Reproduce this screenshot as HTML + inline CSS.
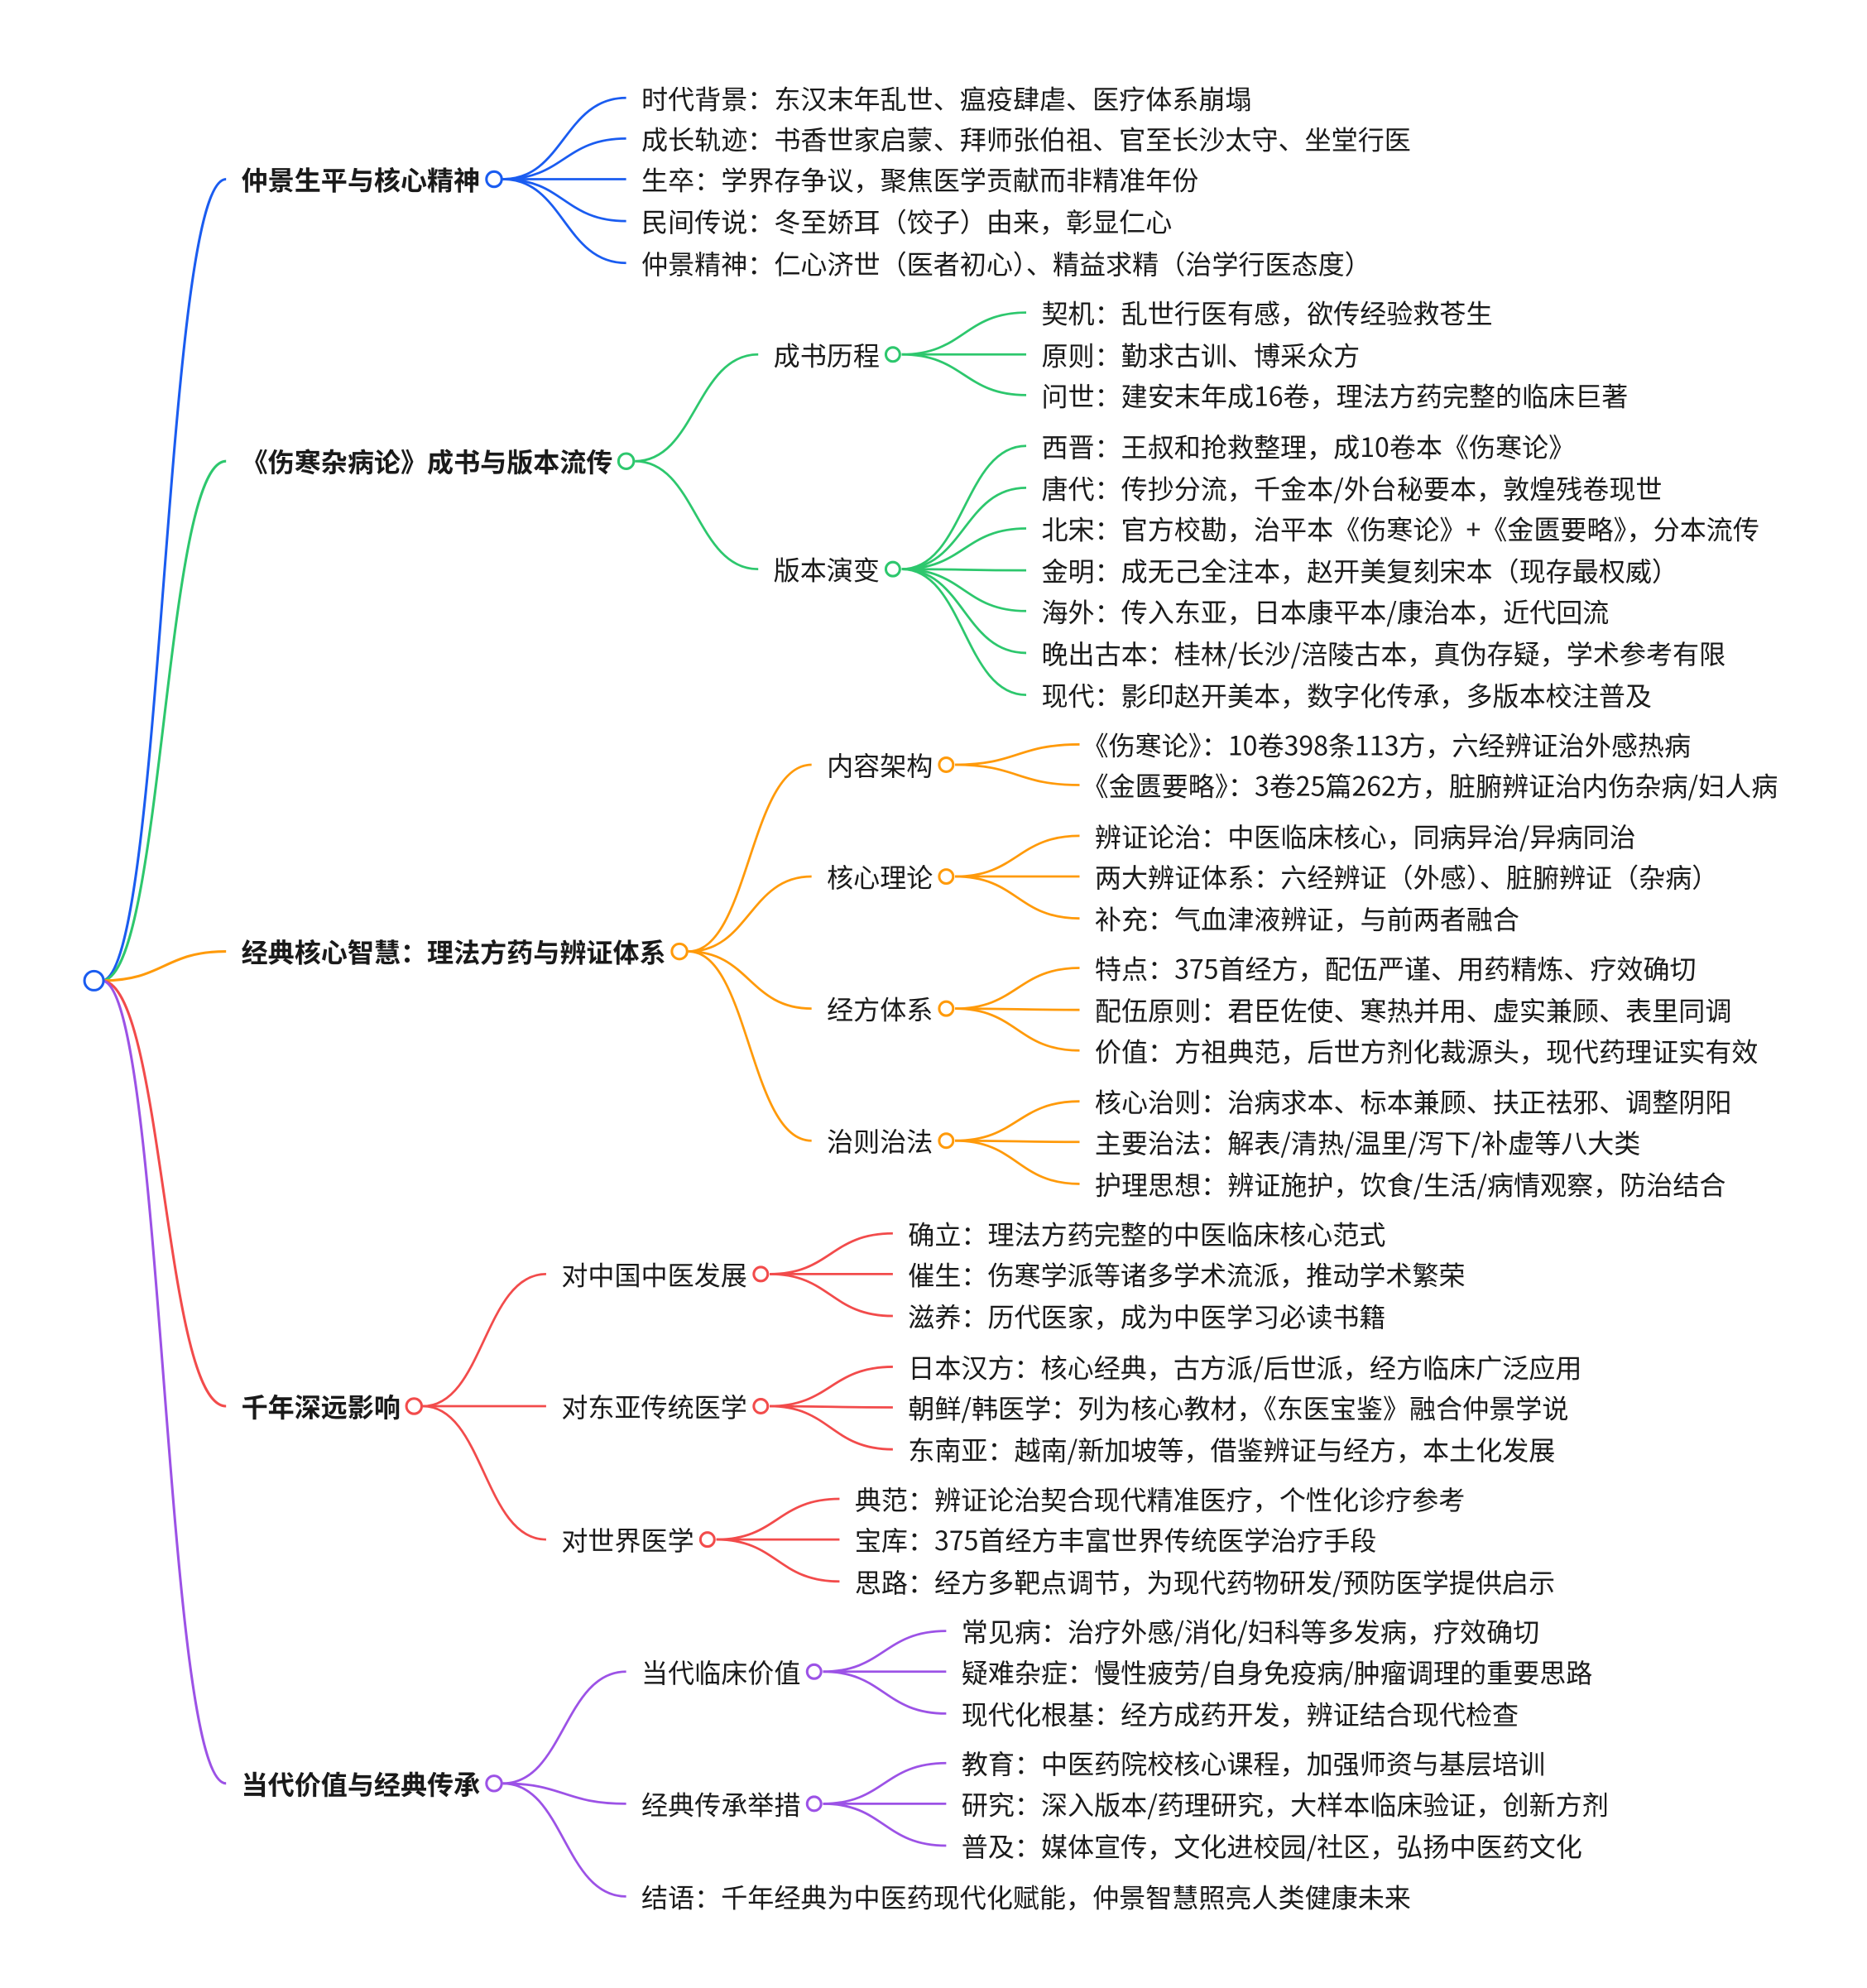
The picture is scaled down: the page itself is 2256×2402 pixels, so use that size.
<!DOCTYPE html>
<html><head><meta charset="utf-8"><style>
html,body{margin:0;padding:0;background:#fff;}
svg{display:block}
text{font-family:"Noto Sans CJK SC","Liberation Sans",sans-serif;font-size:20.9px;fill:#1a1a1a;dominant-baseline:central}
text.b{font-weight:bold}
path{fill:none}
circle{fill:#fff;stroke-width:2}
</style></head><body>
<svg width="2256" height="2402" viewBox="0 0 1470 1565" xmlns="http://www.w3.org/2000/svg">
<g stroke-width="2">
<path stroke="#1a5cf0" d="M80 772 C129 772,129 141,178 141"/>
<path stroke="#2dc76d" d="M80 772 C129 772,129 363,178 363"/>
<path stroke="#ff9a0a" d="M80 772 C129 772,129 749,178 749"/>
<path stroke="#f24b4b" d="M80 772 C129 772,129 1107,178 1107"/>
<path stroke="#9c52e6" d="M80 772 C129 772,129 1404,178 1404"/>
</g>
<g stroke="#1a5cf0" stroke-width="1.8">
<path d="M396 141 C444 141,444 77,493 77"/>
<path d="M396 141 C444 141,444 109,493 109"/>
<path d="M396 141 C444 141,444 141,493 141"/>
<path d="M396 141 C444 141,444 174,493 174"/>
<path d="M396 141 C444 141,444 207,493 207"/>
</g>
<g stroke="#2dc76d" stroke-width="1.8">
<path d="M500 363 C548 363,548 279,597 279"/>
<path d="M500 363 C548 363,548 448,597 448"/>
<path d="M710 279 C759 279,759 246,808 246"/>
<path d="M710 279 C759 279,759 279,808 279"/>
<path d="M710 279 C759 279,759 311,808 311"/>
<path d="M710 448 C759 448,759 351,808 351"/>
<path d="M710 448 C759 448,759 384,808 384"/>
<path d="M710 448 C759 448,759 416,808 416"/>
<path d="M710 448 C759 448,759 449,808 449"/>
<path d="M710 448 C759 448,759 481,808 481"/>
<path d="M710 448 C759 448,759 514,808 514"/>
<path d="M710 448 C759 448,759 547,808 547"/>
</g>
<g stroke="#ff9a0a" stroke-width="1.8">
<path d="M542 749 C590 749,590 602,639 602"/>
<path d="M542 749 C590 749,590 690,639 690"/>
<path d="M542 749 C590 749,590 794,639 794"/>
<path d="M542 749 C590 749,590 898,639 898"/>
<path d="M752 602 C801 602,801 586,850 586"/>
<path d="M752 602 C801 602,801 618,850 618"/>
<path d="M752 690 C801 690,801 658,850 658"/>
<path d="M752 690 C801 690,801 690,850 690"/>
<path d="M752 690 C801 690,801 723,850 723"/>
<path d="M752 794 C801 794,801 762,850 762"/>
<path d="M752 794 C801 794,801 795,850 795"/>
<path d="M752 794 C801 794,801 827,850 827"/>
<path d="M752 898 C801 898,801 867,850 867"/>
<path d="M752 898 C801 898,801 899,850 899"/>
<path d="M752 898 C801 898,801 932,850 932"/>
</g>
<g stroke="#f24b4b" stroke-width="1.8">
<path d="M333 1107 C381 1107,381 1003,430 1003"/>
<path d="M333 1107 C381 1107,381 1107,430 1107"/>
<path d="M333 1107 C381 1107,381 1212,430 1212"/>
<path d="M606 1003 C654 1003,654 971,703 971"/>
<path d="M606 1003 C654 1003,654 1003,703 1003"/>
<path d="M606 1003 C654 1003,654 1036,703 1036"/>
<path d="M606 1107 C654 1107,654 1076,703 1076"/>
<path d="M606 1107 C654 1107,654 1108,703 1108"/>
<path d="M606 1107 C654 1107,654 1141,703 1141"/>
<path d="M564 1212 C612 1212,612 1180,661 1180"/>
<path d="M564 1212 C612 1212,612 1212,661 1212"/>
<path d="M564 1212 C612 1212,612 1245,661 1245"/>
</g>
<g stroke="#9c52e6" stroke-width="1.8">
<path d="M396 1404 C444 1404,444 1316,493 1316"/>
<path d="M396 1404 C444 1404,444 1420,493 1420"/>
<path d="M396 1404 C444 1404,444 1493,493 1493"/>
<path d="M648 1316 C696 1316,696 1284,745 1284"/>
<path d="M648 1316 C696 1316,696 1316,745 1316"/>
<path d="M648 1316 C696 1316,696 1349,745 1349"/>
<path d="M648 1420 C696 1420,696 1388,745 1388"/>
<path d="M648 1420 C696 1420,696 1420,745 1420"/>
<path d="M648 1420 C696 1420,696 1453,745 1453"/>
</g>
<circle cx="74" cy="772" r="7.5" stroke="#1a5cf0"/>
<circle cx="389" cy="141" r="6" stroke="#1a5cf0"/>
<circle cx="493" cy="363" r="6" stroke="#2dc76d"/>
<circle cx="703" cy="279" r="5.5" stroke="#2dc76d"/>
<circle cx="703" cy="448" r="5.5" stroke="#2dc76d"/>
<circle cx="535" cy="749" r="6" stroke="#ff9a0a"/>
<circle cx="745" cy="602" r="5.5" stroke="#ff9a0a"/>
<circle cx="745" cy="690" r="5.5" stroke="#ff9a0a"/>
<circle cx="745" cy="794" r="5.5" stroke="#ff9a0a"/>
<circle cx="745" cy="898" r="5.5" stroke="#ff9a0a"/>
<circle cx="326" cy="1107" r="6" stroke="#f24b4b"/>
<circle cx="599" cy="1003" r="5.5" stroke="#f24b4b"/>
<circle cx="599" cy="1107" r="5.5" stroke="#f24b4b"/>
<circle cx="557" cy="1212" r="5.5" stroke="#f24b4b"/>
<circle cx="389" cy="1404" r="6" stroke="#9c52e6"/>
<circle cx="641" cy="1316" r="5.5" stroke="#9c52e6"/>
<circle cx="641" cy="1420" r="5.5" stroke="#9c52e6"/>
<text class="b" x="190" y="141">仲景生平与核心精神</text>
<text class="b" x="190" y="363">《伤寒杂病论》成书与版本流传</text>
<text class="b" x="190" y="749">经典核心智慧：理法方药与辨证体系</text>
<text class="b" x="190" y="1107">千年深远影响</text>
<text class="b" x="190" y="1404">当代价值与经典传承</text>
<text x="505" y="77">时代背景：东汉末年乱世、瘟疫肆虐、医疗体系崩塌</text>
<text x="505" y="109">成长轨迹：书香世家启蒙、拜师张伯祖、官至长沙太守、坐堂行医</text>
<text x="505" y="141">生卒：学界存争议，聚焦医学贡献而非精准年份</text>
<text x="505" y="174">民间传说：冬至娇耳（饺子）由来，彰显仁心</text>
<text x="505" y="207">仲景精神：仁心济世（医者初心）、精益求精（治学行医态度）</text>
<text x="609" y="279">成书历程</text>
<text x="609" y="448">版本演变</text>
<text x="820" y="246">契机：乱世行医有感，欲传经验救苍生</text>
<text x="820" y="279">原则：勤求古训、博采众方</text>
<text x="820" y="311">问世：建安末年成16卷，理法方药完整的临床巨著</text>
<text x="820" y="351">西晋：王叔和抢救整理，成10卷本《伤寒论》</text>
<text x="820" y="384">唐代：传抄分流，千金本/外台秘要本，敦煌残卷现世</text>
<text x="820" y="416">北宋：官方校勘，治平本《伤寒论》+《金匮要略》，分本流传</text>
<text x="820" y="449">金明：成无己全注本，赵开美复刻宋本（现存最权威）</text>
<text x="820" y="481">海外：传入东亚，日本康平本/康治本，近代回流</text>
<text x="820" y="514">晚出古本：桂林/长沙/涪陵古本，真伪存疑，学术参考有限</text>
<text x="820" y="547">现代：影印赵开美本，数字化传承，多版本校注普及</text>
<text x="651" y="602">内容架构</text>
<text x="651" y="690">核心理论</text>
<text x="651" y="794">经方体系</text>
<text x="651" y="898">治则治法</text>
<text x="852" y="586">《伤寒论》：10卷398条113方，六经辨证治外感热病</text>
<text x="852" y="618">《金匮要略》：3卷25篇262方，脏腑辨证治内伤杂病/妇人病</text>
<text x="862" y="658">辨证论治：中医临床核心，同病异治/异病同治</text>
<text x="862" y="690">两大辨证体系：六经辨证（外感）、脏腑辨证（杂病）</text>
<text x="862" y="723">补充：气血津液辨证，与前两者融合</text>
<text x="862" y="762">特点：375首经方，配伍严谨、用药精炼、疗效确切</text>
<text x="862" y="795">配伍原则：君臣佐使、寒热并用、虚实兼顾、表里同调</text>
<text x="862" y="827">价值：方祖典范，后世方剂化裁源头，现代药理证实有效</text>
<text x="862" y="867">核心治则：治病求本、标本兼顾、扶正祛邪、调整阴阳</text>
<text x="862" y="899">主要治法：解表/清热/温里/泻下/补虚等八大类</text>
<text x="862" y="932">护理思想：辨证施护，饮食/生活/病情观察，防治结合</text>
<text x="442" y="1003">对中国中医发展</text>
<text x="442" y="1107">对东亚传统医学</text>
<text x="442" y="1212">对世界医学</text>
<text x="715" y="971">确立：理法方药完整的中医临床核心范式</text>
<text x="715" y="1003">催生：伤寒学派等诸多学术流派，推动学术繁荣</text>
<text x="715" y="1036">滋养：历代医家，成为中医学习必读书籍</text>
<text x="715" y="1076">日本汉方：核心经典，古方派/后世派，经方临床广泛应用</text>
<text x="715" y="1108">朝鲜/韩医学：列为核心教材，《东医宝鉴》融合仲景学说</text>
<text x="715" y="1141">东南亚：越南/新加坡等，借鉴辨证与经方，本土化发展</text>
<text x="673" y="1180">典范：辨证论治契合现代精准医疗，个性化诊疗参考</text>
<text x="673" y="1212">宝库：375首经方丰富世界传统医学治疗手段</text>
<text x="673" y="1245">思路：经方多靶点调节，为现代药物研发/预防医学提供启示</text>
<text x="505" y="1316">当代临床价值</text>
<text x="505" y="1420">经典传承举措</text>
<text x="505" y="1493">结语：千年经典为中医药现代化赋能，仲景智慧照亮人类健康未来</text>
<text x="757" y="1284">常见病：治疗外感/消化/妇科等多发病，疗效确切</text>
<text x="757" y="1316">疑难杂症：慢性疲劳/自身免疫病/肿瘤调理的重要思路</text>
<text x="757" y="1349">现代化根基：经方成药开发，辨证结合现代检查</text>
<text x="757" y="1388">教育：中医药院校核心课程，加强师资与基层培训</text>
<text x="757" y="1420">研究：深入版本/药理研究，大样本临床验证，创新方剂</text>
<text x="757" y="1453">普及：媒体宣传，文化进校园/社区，弘扬中医药文化</text>
</svg>
</body></html>
